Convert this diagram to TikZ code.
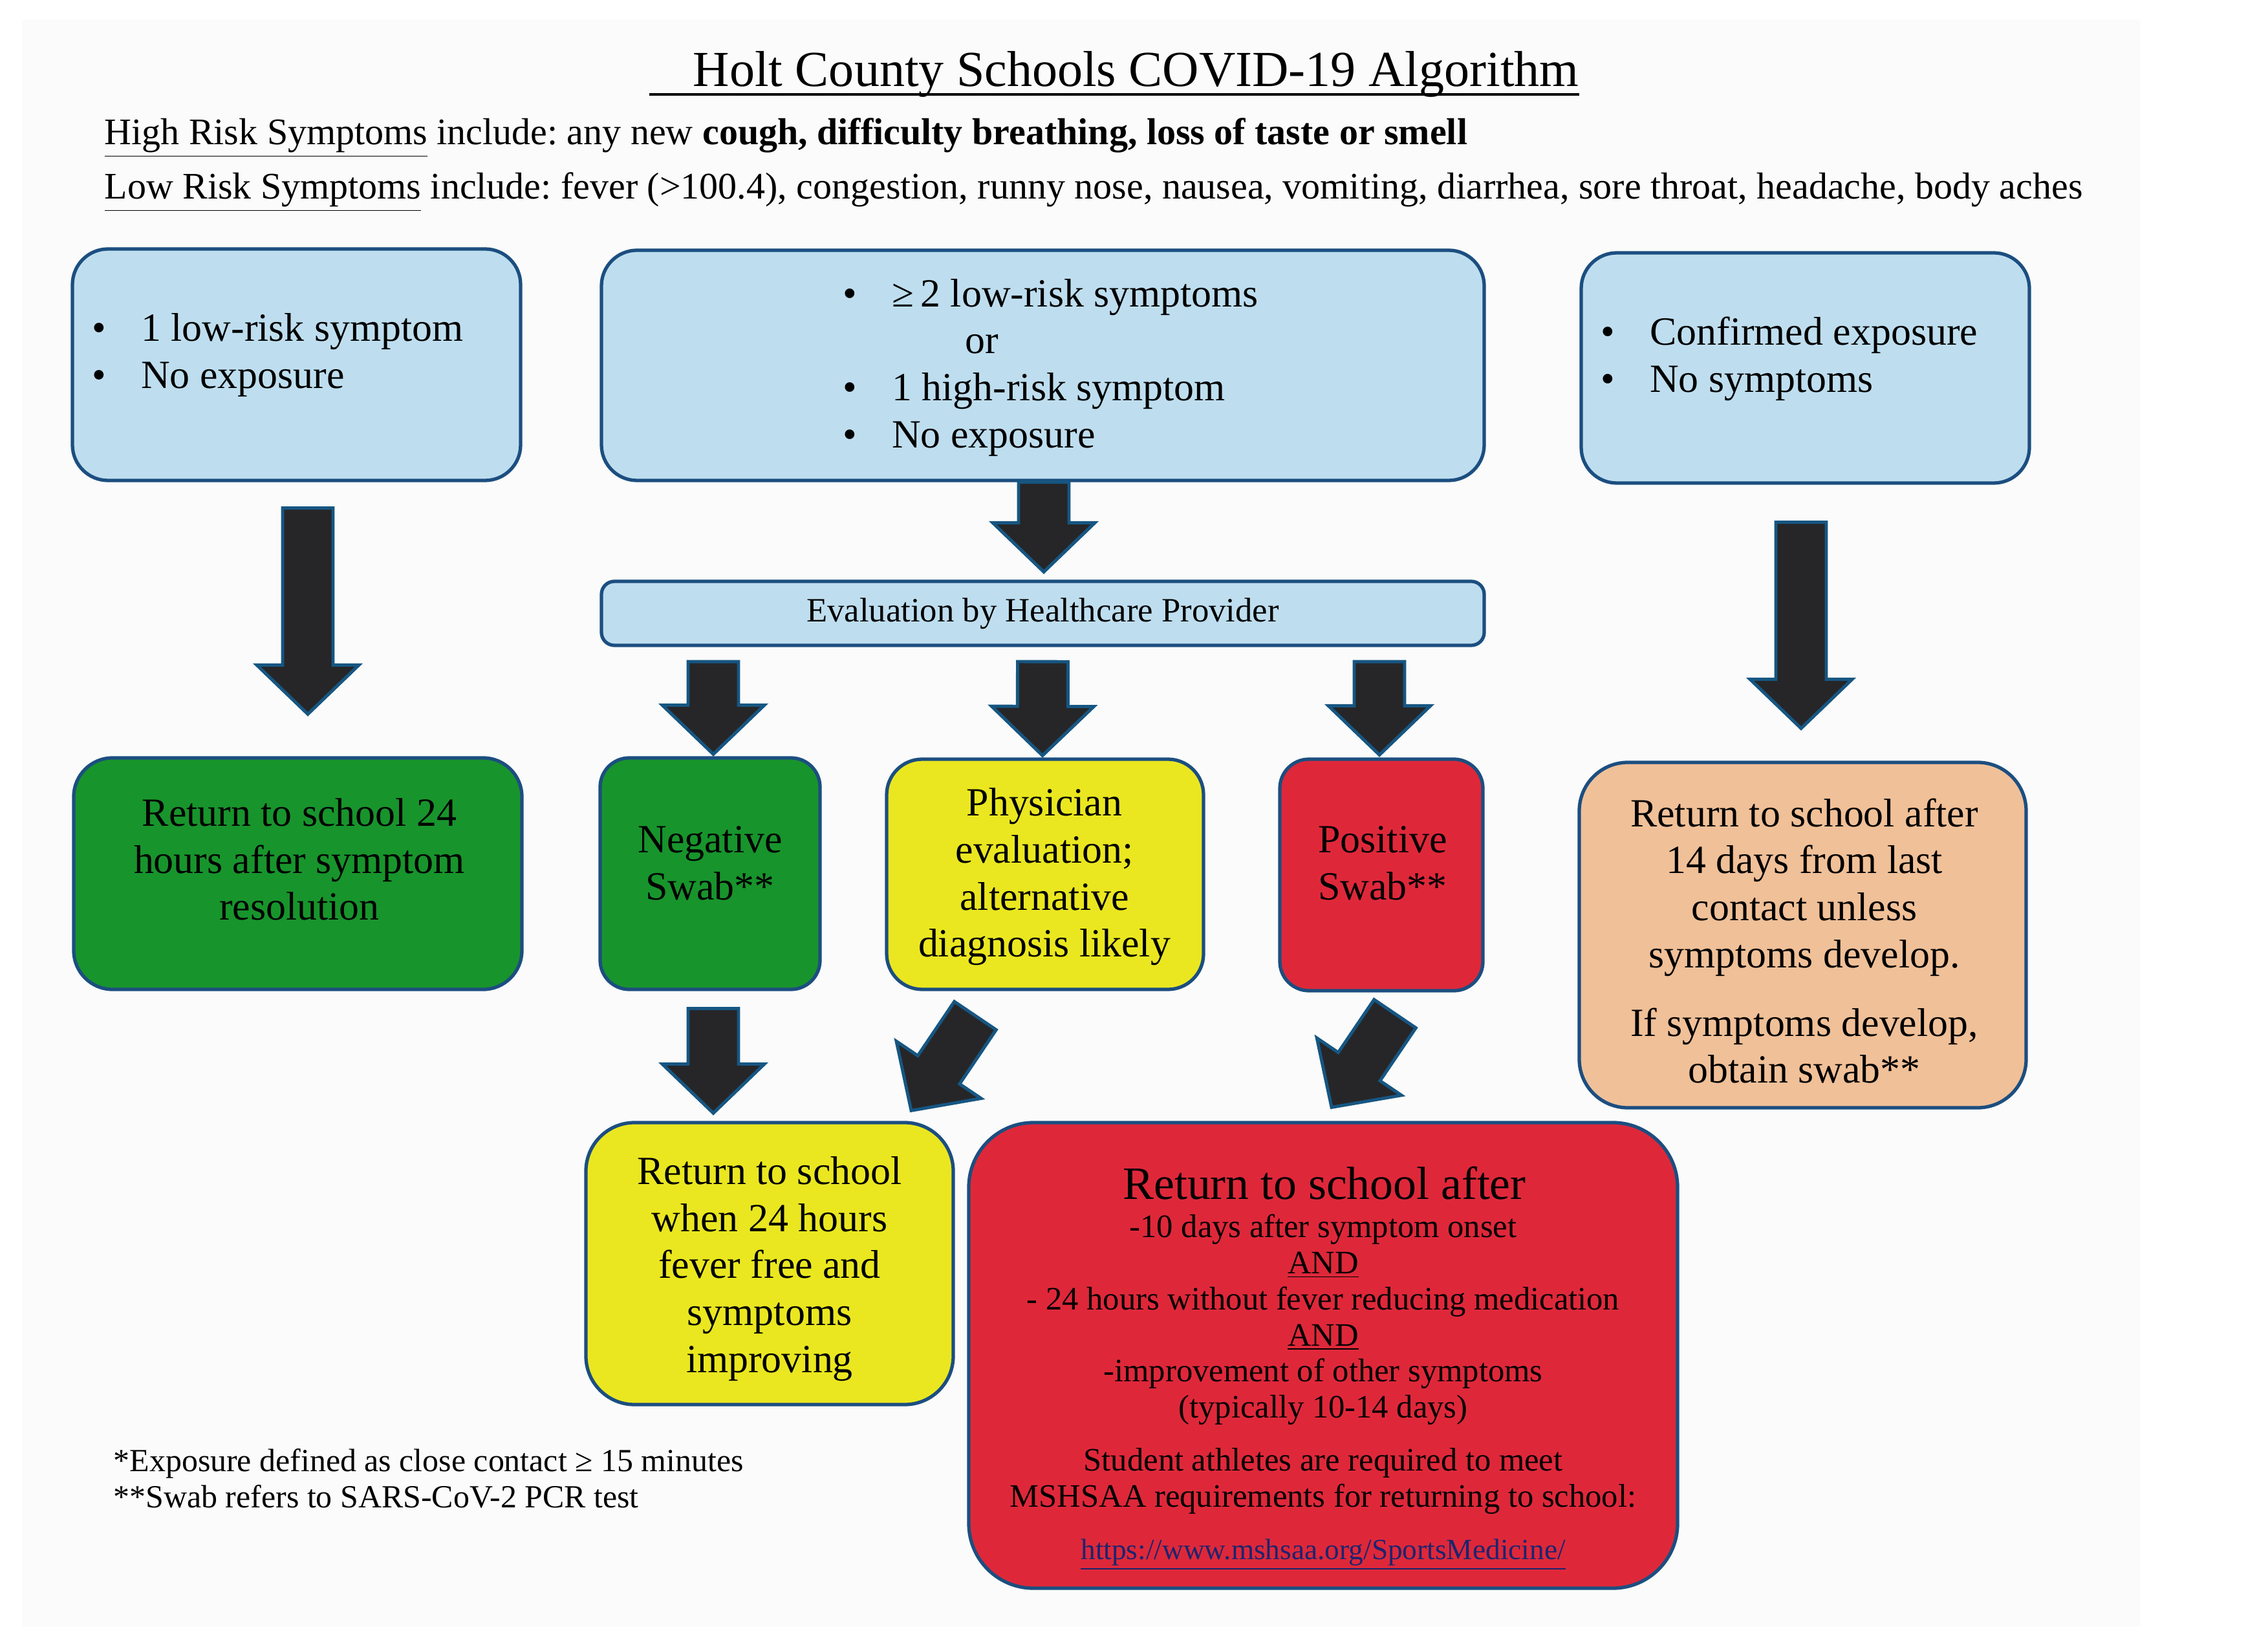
\documentclass[tikz,border=0pt]{standalone}
\usepackage{fontspec}
\setmainfont{Liberation Serif}
\usetikzlibrary{calc}
\frenchspacing

\definecolor{paper}{RGB}{250,251,250}
\definecolor{boxblue}{RGB}{190,222,239}
\definecolor{boxline}{RGB}{28,78,128}
\definecolor{boxgreen}{RGB}{24,148,44}
\definecolor{boxyellow}{RGB}{234,231,32}
\definecolor{boxred}{RGB}{222,40,58}
\definecolor{boxpeach}{RGB}{240,192,152}
\definecolor{arrfill}{RGB}{38,38,40}
\definecolor{arrline}{RGB}{22,86,130}
\definecolor{linkblue}{RGB}{28,36,110}

\newcommand\boxfont{\fontsize{17.6}{20.7}\selectfont}
\newcommand\smallfont{\fontsize{14.4}{15.9}\selectfont}
\newcommand\blt{\textbullet\hspace{0.54cm}}

% block arrow from tail #1 to tip #2
\newcommand\bigarrow[2]{%
  \coordinate (hb) at ($(#2)!0.76cm!(#1)$);
  \filldraw[blockarr] ($(#1)!0.39cm!90:(#2)$) -- ($(hb)!0.39cm!90:(#2)$)
    -- ($(hb)!0.79cm!90:(#2)$) -- (#2) -- ($(hb)!0.79cm!-90:(#2)$)
    -- ($(hb)!0.39cm!-90:(#2)$) -- ($(#1)!0.39cm!-90:(#2)$) -- cycle;}

\begin{document}
\begin{tikzpicture}[
	box/.style={draw=boxline, line width=1.5pt, rounded corners=#1, inner sep=0pt},
	box/.default=0.55cm,
	txt/.style={inner sep=0pt, align=center, font=\boxfont},
	listtxt/.style={inner sep=0pt, align=left, anchor=west, font=\boxfont},
	blockarr/.style={fill=arrfill, draw=arrline, line width=1.4pt, line join=miter}]
	\useasboundingbox (0,0) rectangle (35.07,-25.50);
	\fill[paper] (0.34,-0.30) rectangle (33.10,-25.16);

	% heading
	\node[anchor=base west, inner sep=0pt, font=\fontsize{22.2}{26}\selectfont] (title) at (10.04,-1.34) {\hspace*{0.67cm}Holt County Schools COVID-19 Algorithm};
	\draw[line width=1.2pt] ([yshift=-0.12cm]title.base west) -- ([yshift=-0.12cm]title.base east);
	\node[anchor=base west, inner sep=0pt, font=\fontsize{16.5}{19}\selectfont] (high) at (1.61,-2.24) {\underline{High Risk Symptoms} include: any new \textbf{cough, difficulty breathing, loss of taste or smell}};
	\node[anchor=base west, inner sep=0pt, font=\fontsize{16.5}{19}\selectfont] (low) at (1.61,-3.08) {\underline{Low Risk Symptoms} include: fever (>100.4), congestion, runny nose, nausea, vomiting, diarrhea, sore throat, headache, body aches};

	% top row
	\node[box, fill=boxblue, minimum width=6.93cm, minimum height=3.58cm] (sympA) at (4.585,-5.64) {};
	\node[box, fill=boxblue, minimum width=13.65cm, minimum height=3.56cm] (sympB) at (16.125,-5.65) {};
	\node[box, fill=boxblue, minimum width=6.93cm, minimum height=3.56cm] (sympC) at (27.915,-5.69) {};
	\node[listtxt] (sympA-t) at (1.42,-5.49) {\blt 1 low-risk symptom\\ \blt No exposure};
	\node[listtxt] (sympB-t) at (13.03,-5.685) {\blt ≥\,2 low-risk symptoms\\ \hspace*{1.89cm}or\\ \blt 1 high-risk symptom\\ \blt No exposure};
	\node[listtxt] (sympC-t) at (24.75,-5.55) {\blt Confirmed exposure\\ \blt No symptoms};

	\node[box=0.2cm, fill=boxblue, minimum width=13.65cm, minimum height=0.99cm, font=\fontsize{15}{18}\selectfont] (eval) at (16.125,-9.485) {Evaluation by Healthcare Provider};

	% middle row
	\node[box=0.6cm, fill=boxgreen, minimum width=6.93cm, minimum height=3.58cm] (retA) at (4.605,-13.51) {};
	\node[box=0.45cm, fill=boxgreen, minimum width=3.40cm, minimum height=3.58cm] (neg) at (10.98,-13.51) {};
	\node[box, fill=boxyellow, minimum width=4.90cm, minimum height=3.56cm] (phys) at (16.16,-13.52) {};
	\node[box=0.45cm, fill=boxred, minimum width=3.14cm, minimum height=3.58cm] (pos) at (21.36,-13.53) {};
	\node[box=0.75cm, fill=boxpeach, minimum width=6.91cm, minimum height=5.34cm] (retC) at (27.875,-14.46) {};
	\node[txt] (retA-t) at (4.63,-13.29) {Return to school 24\\ hours after symptom\\ resolution};
	\node[txt] (neg-t) at (10.98,-13.35) {Negative\\ Swab**};
	\node[txt] (phys-t) at (16.15,-13.56) {Physician\\ evaluation;\\ alternative\\ diagnosis likely};
	\node[txt] (pos-t) at (21.38,-13.35) {Positive\\ Swab**};
	\node[txt] (retC-t) at (27.9,-14.55) {Return to school after\\ 14 days from last\\ contact unless\\ symptoms develop.\\[0.33cm] If symptoms develop,\\ obtain swab**};

	% bottom row
	\node[box=0.75cm, fill=boxyellow, minimum width=5.68cm, minimum height=4.36cm] (retN) at (11.90,-19.54) {};
	\node[box=1.0cm, fill=boxred, minimum width=10.96cm, minimum height=7.20cm] (retP) at (20.46,-20.96) {};
	\node[txt] (retN-t) at (11.9,-19.62) {Return to school\\ when 24 hours\\ fever free and\\ symptoms\\ improving};
	\node[anchor=base, inner sep=0pt, font=\fontsize{20.4}{24}\selectfont] (retP-h) at (20.48,-18.54) {Return to school after};
	\node[anchor=north, inner sep=0pt, align=center, font=\smallfont] (retP-t) at (20.46,-18.77) {-10 days after symptom onset\\ \underline{AND}\\ - 24 hours without fever reducing medication\\ \underline{AND}\\ -improvement of other symptoms\\ (typically 10-14 days)\\[0.26cm] Student athletes are required to meet\\ MSHSAA requirements for returning to school:\\[0.25cm] {\fontsize{12.9}{15.9}\selectfont\textcolor{linkblue}{\underline{https://www.mshsaa.org/SportsMedicine/}}}};

	% footnotes
	\node[anchor=west, inner sep=0pt, align=left, font=\fontsize{14.2}{15.9}\selectfont] (notes) at (1.75,-22.86) {*Exposure defined as close contact ≥ 15 minutes\\ **Swab refers to SARS-CoV-2 PCR test};

	% arrows
	\coordinate (a1) at ($(sympA.south)+(0.175,-0.40)$);
	\coordinate (a2) at ($(retA.north)+(0.155,0.65)$);
	\coordinate (b1) at ($(sympB.south)+(0.015,0)$);
	\coordinate (b2) at ($(eval.north)+(0.015,0.12)$);
	\coordinate (c1) at ($(sympC.south)+(-0.065,-0.58)$);
	\coordinate (c2) at ($(retC.north)+(-0.025,0.50)$);
	\coordinate (n1) at ($(eval.south -| neg.north)+(0.05,-0.225)$);
	\coordinate (n2) at ($(neg.north)+(0.05,0.03)$);
	\coordinate (p1) at ($(eval.south)+(0,-0.225)$);
	\coordinate (p2) at ($(phys.north)+(-0.04,0.03)$);
	\coordinate (s1) at ($(eval.south -| pos.north)+(-0.03,-0.225)$);
	\coordinate (s2) at ($(pos.north)+(-0.03,0.04)$);
	\coordinate (d1) at ($(neg.south)+(0.05,-0.27)$);
	\coordinate (d2) at ($(retN.north -| neg.south)+(0.05,0.12)$);
	\coordinate (e1) at ($(phys.south)+(-1.08,-0.38)$);
	\coordinate (e2) at ($(retN.north)+(2.19,0.16)$);
	\coordinate (f1) at ($(pos.south)+(0.21,-0.33)$);
	\coordinate (f2) at ($(retP.north)+(0.13,0.21)$);
	\foreach \t/\h in {a1/a2,b1/b2,c1/c2,n1/n2,p1/p2,s1/s2,d1/d2,e1/e2,f1/f2}
		\bigarrow{\t}{\h};
\end{tikzpicture}
\end{document}
